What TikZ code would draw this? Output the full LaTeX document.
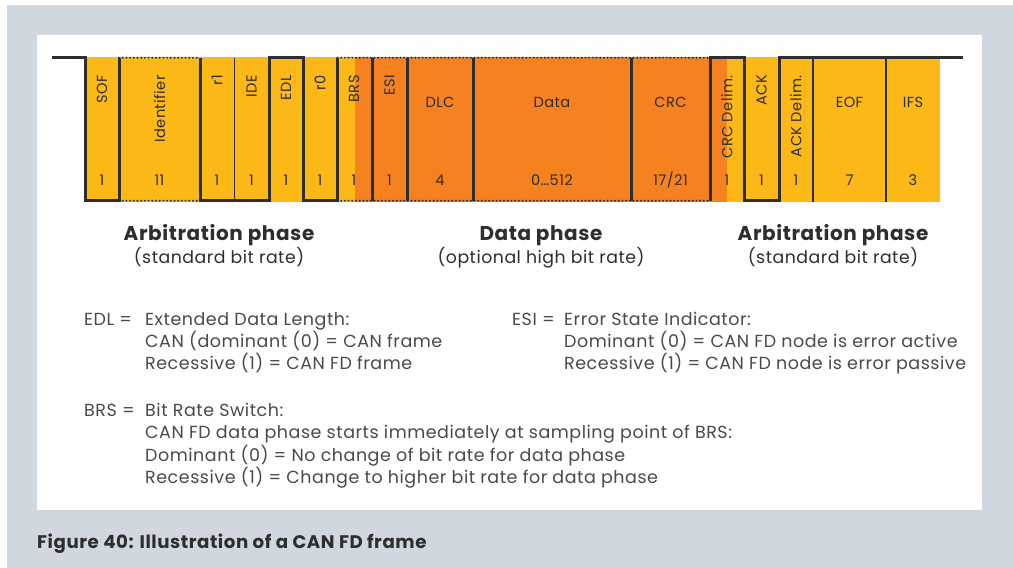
\documentclass[tikz,border=0pt]{standalone}
\usepackage{fontspec}
\setmainfont{Poppins}[LetterSpace=3]
\definecolor{canyellow}{HTML}{FBB817}
\definecolor{canorange}{HTML}{F5821F}
\definecolor{pagegray}{HTML}{D0D7DE}
\definecolor{ink}{HTML}{2E2E2E}
\definecolor{bodyink}{HTML}{4A4A4A}
\tikzset{
  field/.style={font=\fontsize{14.6}{17}\selectfont,text=ink,inner sep=0pt},
  vfield/.style={field,rotate=90,anchor=east},
  body/.style={font=\fontsize{17.5}{20}\selectfont,text=bodyink,inner sep=0pt,anchor=base west},
  phase/.style={font=\fontsize{20}{24}\selectfont\bfseries,text=ink,inner sep=0pt,anchor=base},
  rate/.style={font=\fontsize{17.3}{20}\selectfont,text=ink,inner sep=0pt,anchor=base},
  signal/.style={line width=3pt,draw=ink},
  dotline/.style={line width=2.2pt,draw=ink,line cap=round,dash pattern=on 0pt off 3.7pt},
  sepline/.style={line width=1.4pt,draw=ink}
}
\begin{document}
\begin{tikzpicture}[x=1pt,y=-1pt,line join=miter]
  \useasboundingbox (0,0) rectangle (1013,568);
  \fill[pagegray] (7,5) rectangle (1013,568);
  \fill[white] (37,35) rectangle (982,510);

  \fill[canyellow] (85,57) rectangle (940,202);
  \fill[canorange] (354.5,57) rectangle (727,202);

  \draw[sepline] (234.3,58) -- (234.3,202) (813,58) -- (813,202) (886,58) -- (886,202);
  \draw[dotline] (119,57.7) -- (200,57.7) (119,200.7) -- (200,200.7);
  \draw[dotline] (337.5,57.7) -- (710,57.7) (337.5,200.7) -- (710,200.7);
  \draw[signal]
    (52,57.7) -- (85,57.7) -- (85,200.7) -- (119,200.7) -- (119,57.7);
  \draw[signal]
    (200,57.7) -- (200,200.7) -- (269,200.7) -- (269,57.7) -- (303,57.7)
    -- (303,200.7) -- (337.5,200.7) -- (337.5,57.7);
  \draw[signal] (372,57.7) -- (372,200.7) (407,57.7) -- (407,200.7)
    (473,57.7) -- (473,200.7) (631,57.7) -- (631,200.7);
  \draw[signal]
    (710,200.7) -- (710,57.7) -- (744,57.7) -- (744,200.7) -- (779,200.7)
    -- (779,57.7) -- (963,57.7);

  \node[vfield] (sof) at (102,75) {SOF};
  \node[field] (sofn) at (102,180) {1};
  \node[vfield] (ident) at (159.5,75) {Identifier};
  \node[field] (identn) at (159.5,180) {11};
  \node[vfield] (rone) at (217,75) {r1};
  \node[field] (ronen) at (217,180) {1};
  \node[vfield] (ide) at (251.5,75) {IDE};
  \node[field] (iden) at (251.5,180) {1};
  \node[vfield] (edl) at (286,75) {EDL};
  \node[field] (edln) at (286,180) {1};
  \node[vfield] (rzero) at (320,75) {r0};
  \node[field] (rzeron) at (320,180) {1};
  \node[vfield] (brs) at (354,75) {BRS};
  \node[field] (brsn) at (354,180) {1};
  \node[vfield] (esi) at (389.5,75) {ESI};
  \node[field] (esin) at (389.5,180) {1};
  \node[field] (dlc) at (440,102) {DLC};
  \node[field] (dlcn) at (440,180) {4};
  \node[field] (data) at (552,102) {Data};
  \node[field] (datan) at (552,180) {0…512};
  \node[field] (crc) at (670.5,102) {CRC};
  \node[field] (crcn) at (670.5,180) {17/21};
  \node[vfield] (crcdel) at (727,75) {CRC Delim.};
  \node[field] (crcdeln) at (727,180) {1};
  \node[vfield] (ack) at (761.5,75) {ACK};
  \node[field] (ackn) at (761.5,180) {1};
  \node[vfield] (ackdel) at (796,75) {ACK Delim.};
  \node[field] (ackdeln) at (796,180) {1};
  \node[field] (eof) at (849.5,102) {EOF};
  \node[field] (eofn) at (849.5,180) {7};
  \node[field] (ifs) at (913,102) {IFS};
  \node[field] (ifsn) at (913,180) {3};

  \node[phase] (arbone) at (219,240) {Arbitration phase};
  \node[rate] (arbonerate) at (219,263) {(standard bit rate)};
  \node[phase] (dataphase) at (541,240) {Data phase};
  \node[rate] (dataphaserate) at (541,263) {(optional high bit rate)};
  \node[phase] (arbtwo) at (833,240) {Arbitration phase};
  \node[rate] (arbtworate) at (833,263) {(standard bit rate)};

  \node[body] (edlkey) at (84,325) {EDL =};
  \node[body] (edlone) at (145,325) {Extended Data Length:};
  \node[body] (edltwo) at (145,347) {CAN (dominant (0) = CAN frame};
  \node[body] (edlthree) at (145,369) {Recessive (1) = CAN FD frame};
  \node[body] (esikey) at (512,325) {ESI =};
  \node[body] (esione) at (564,325) {Error State Indicator:};
  \node[body] (esitwo) at (564,347) {Dominant (0) = CAN FD node is error active};
  \node[body] (esithree) at (564,369) {Recessive (1) = CAN FD node is error passive};
  \node[body] (brskey) at (84,416) {BRS =};
  \node[body] (brsone) at (145,416) {Bit Rate Switch:};
  \node[body] (brstwo) at (145,438) {CAN FD data phase starts immediately at sampling point of BRS:};
  \node[body] (brsthree) at (145,461) {Dominant (0) = No change of bit rate for data phase};
  \node[body] (brsfour) at (145,483) {Recessive (1) = Change to higher bit rate for data phase};

  \node[anchor=base west,inner sep=0pt,text=ink,font=\fontsize{18.2}{21}\selectfont\bfseries]
    (caption) at (37,548) {Figure 40: Illustration of a CAN FD frame};
\end{tikzpicture}
\end{document}
